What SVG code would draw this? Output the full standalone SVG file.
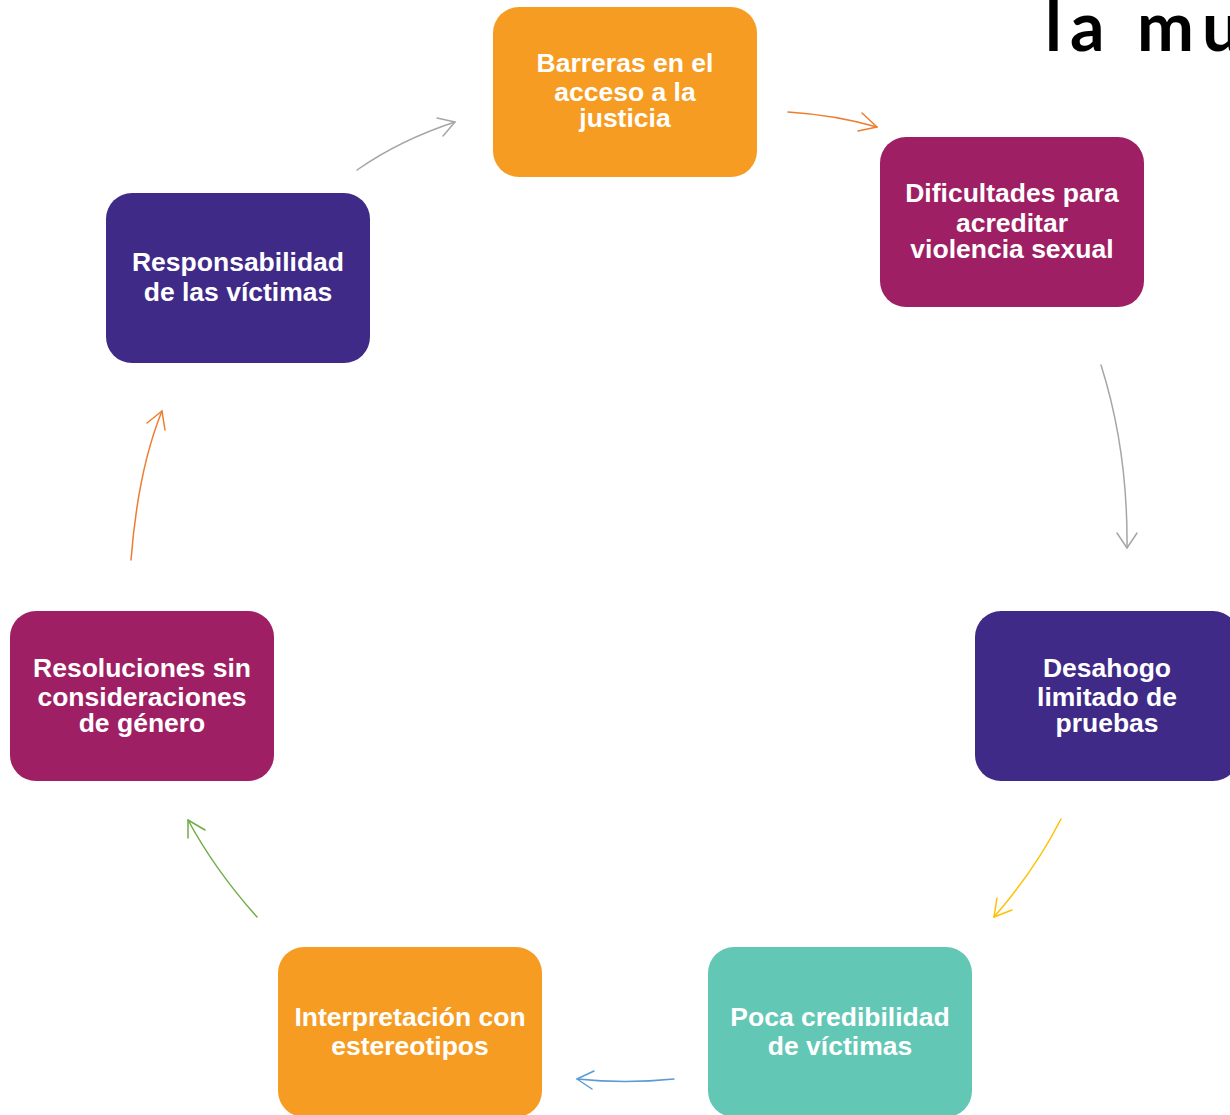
<svg xmlns="http://www.w3.org/2000/svg" width="1230" height="1115" viewBox="0 0 1230 1115">
<style>
.box{stroke:none}
.t{font-family:"Liberation Sans",Arial,sans-serif;font-weight:bold;font-size:26.5px;fill:#fff;text-anchor:middle}
.c{fill:none;stroke-width:1.5;stroke-linecap:round;stroke-linejoin:round}
.title{font-family:"Lato","Liberation Sans",sans-serif;font-size:68px;fill:#000;font-weight:bold;letter-spacing:8px}
</style>
<rect width="1230" height="1115" fill="#fff"/>
<text class="title" x="1045" y="51">la mu</text>
<g id="connectors">
<path class="c" stroke="#A6A6A6" d="M357,170 Q400,140 455,122"/>
<polyline class="c" stroke="#A6A6A6" points="437,118 455,122 443,136"/>
<path class="c" stroke="#ED7D31" d="M788,112 Q835,115 877,127"/>
<polyline class="c" stroke="#ED7D31" points="862,113 877,127 858,131"/>
<path class="c" stroke="#A6A6A6" d="M1101,365 Q1128,450 1127,548"/>
<polyline class="c" stroke="#A6A6A6" points="1117,533 1127,548 1137,533"/>
<path class="c" stroke="#FFC000" d="M1061,819 Q1035,870 994,917"/>
<polyline class="c" stroke="#FFC000" points="997,898 994,917 1012,910"/>
<path class="c" stroke="#5B9BD5" d="M674,1079 Q625,1084 577,1079"/>
<polyline class="c" stroke="#5B9BD5" points="594,1071 577,1079 592,1089"/>
<path class="c" stroke="#70AD47" d="M257,917 Q215,870 188,820"/>
<polyline class="c" stroke="#70AD47" points="188,838 188,820 205,830"/>
<path class="c" stroke="#ED7D31" d="M131,560 Q138,470 162,411"/>
<polyline class="c" stroke="#ED7D31" points="147,423 162,411 165,430"/>
</g>
<g id="n1"><rect class="box" x="493" y="7" width="264" height="170" rx="26" fill="#F79C22"/>
<text class="t" x="625" y="72">Barreras en el</text><text class="t" x="625" y="101">acceso a la</text><text class="t" x="625" y="127">justicia</text></g>
<g id="n2"><rect class="box" x="880" y="137" width="264" height="170" rx="26" fill="#9E1F63"/>
<text class="t" x="1012" y="202">Dificultades para</text><text class="t" x="1012" y="232">acreditar</text><text class="t" x="1012" y="258">violencia sexual</text></g>
<g id="n3"><rect class="box" x="975" y="611" width="264" height="170" rx="26" fill="#402A87"/>
<text class="t" x="1107" y="677">Desahogo</text><text class="t" x="1107" y="706">limitado de</text><text class="t" x="1107" y="732">pruebas</text></g>
<g id="n4"><rect class="box" x="708" y="947" width="264" height="170" rx="26" fill="#63C7B6"/>
<text class="t" x="840" y="1026">Poca credibilidad</text><text class="t" x="840" y="1055">de víctimas</text></g>
<g id="n5"><rect class="box" x="278" y="947" width="264" height="170" rx="26" fill="#F79C22"/>
<text class="t" x="410" y="1026">Interpretación con</text><text class="t" x="410" y="1055">estereotipos</text></g>
<g id="n6"><rect class="box" x="10" y="611" width="264" height="170" rx="26" fill="#9E1F63"/>
<text class="t" x="142" y="677">Resoluciones sin</text><text class="t" x="142" y="706">consideraciones</text><text class="t" x="142" y="732">de género</text></g>
<g id="n7"><rect class="box" x="106" y="193" width="264" height="170" rx="26" fill="#402A87"/>
<text class="t" x="238" y="271">Responsabilidad</text><text class="t" x="238" y="301">de las víctimas</text></g>
</svg>
